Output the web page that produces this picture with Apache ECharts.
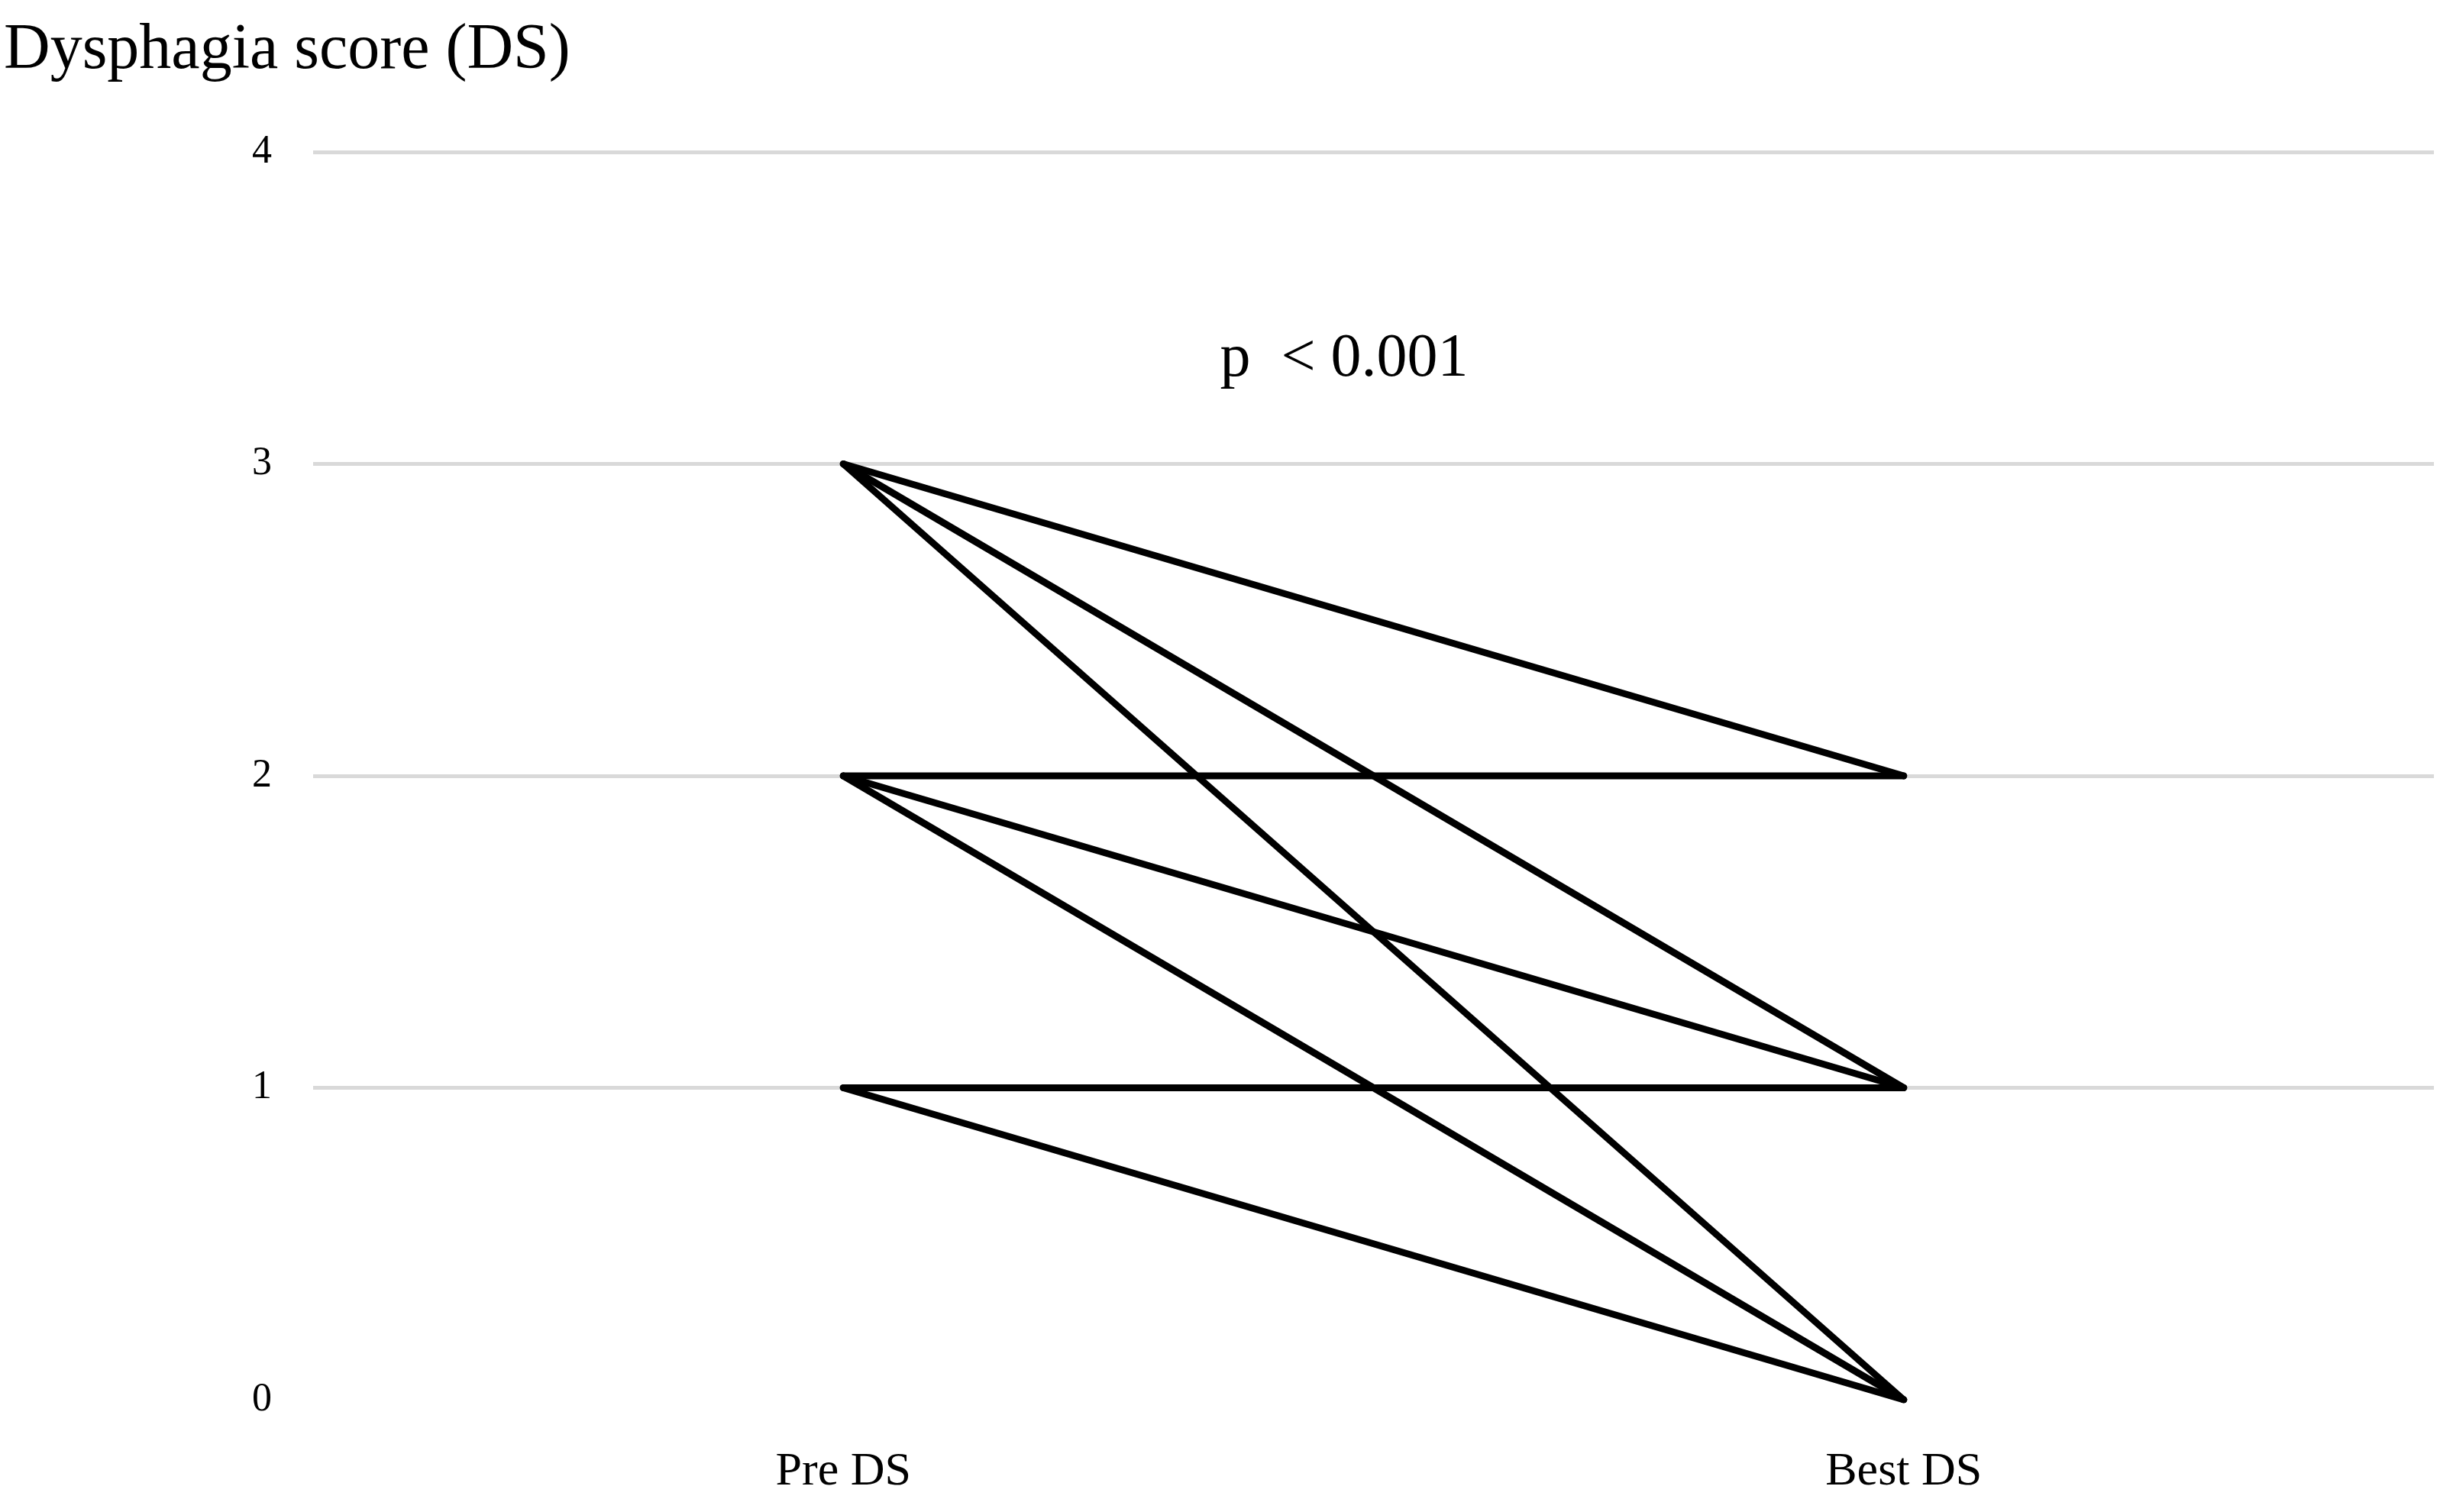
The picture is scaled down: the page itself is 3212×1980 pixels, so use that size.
<!DOCTYPE html>
<html>
<head>
<meta charset="utf-8">
<script src="https://cdn.jsdelivr.net/npm/echarts@6/dist/echarts.min.js"></script>
<style>
    html, body { margin: 0; padding: 0; background: #fff; }
    #main { width: 3212px; height: 1980px; }
</style>
</head>
<body>
<div id="main"></div>
<script>
// categories on the x axis
var categories = ['Pre DS', 'Best DS'];
// one patient line per index: pre score -> best score
var preDS  = [3, 3, 3, 2, 2, 2, 1, 1];
var bestDS = [2, 1, 0, 2, 1, 0, 1, 0];
var yTicks = [0, 1, 2, 3, 4];

var FONT = '"Liberation Serif", "DejaVu Serif", serif';

function pairSeries() {
    var list = [];
    for (var i = 0; i < preDS.length; i++) {
        list.push({
            name: 'p' + i,
            type: 'line',
            data: [preDS[i], bestDS[i]],
            symbol: 'none',
            silent: true,
            lineStyle: {
                color: '#000',
                width: 9,
                cap: 'round',
                join: 'round'
            },
            z: 3
        });
    }
    return list;
}

var mchart = echarts.init(document.getElementById('main'));
var option = {
    backgroundColor: '#fff',
    animation: false,
    title: [{
        text: 'Dysphagia score (DS)',
        left: 0,
        top: 20,
        textStyle: { fontFamily: FONT, fontSize: 84, fontWeight: 'normal', color: '#000' }
    }, {
        text: 'p  < 0.001',
        left: 1755,
        top: 426,
        textAlign: 'center',
        textStyle: { fontFamily: FONT, fontSize: 80, fontWeight: 'normal', color: '#000' }
    }],
    grid: { left: 410, right: 25, top: 199, bottom: 147 },
    xAxis: {
        type: 'category',
        data: categories,
        boundaryGap: true,
        axisLine: { show: false },
        axisTick: { show: false },
        axisLabel: { fontFamily: FONT, fontSize: 62, color: '#000', margin: 64 }
    },
    yAxis: {
        type: 'value',
        min: yTicks[0],
        max: yTicks[yTicks.length - 1],
        interval: 1,
        axisLine: { show: false },
        axisTick: { show: false },
        axisLabel: { fontFamily: FONT, fontSize: 52, color: '#000', margin: 54 },
        splitLine: {
            lineStyle: { color: ['rgba(0,0,0,0)', '#d9d9d9', '#d9d9d9', '#d9d9d9', '#d9d9d9'], width: 5 }
        }
    },
    series: pairSeries()
};
mchart.setOption(option);
</script>
</body>
</html>
